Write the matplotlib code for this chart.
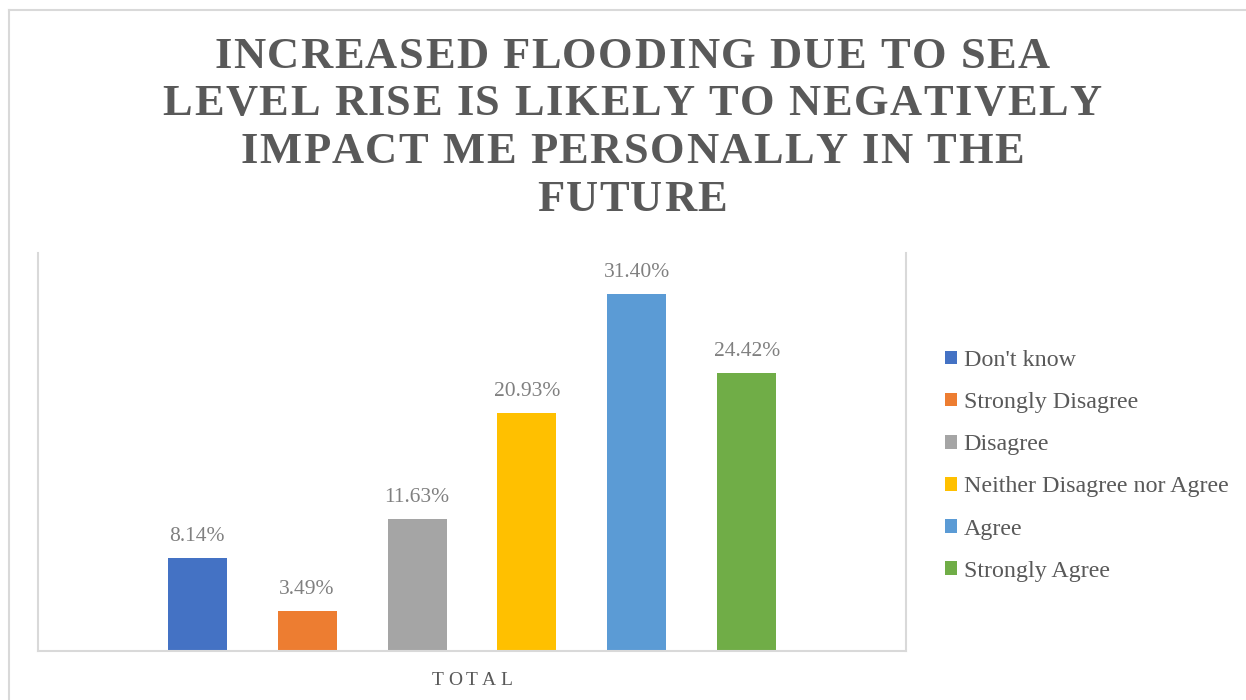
import matplotlib
matplotlib.use("Agg")
import matplotlib.pyplot as plt
from matplotlib.lines import Line2D
from matplotlib.patches import Patch
from matplotlib.font_manager import FontProperties, findfont, get_font

# ==========================================
# DATA
# ==========================================
categories = ["Don't know", "Strongly Disagree", "Disagree",
              "Neither Disagree nor Agree", "Agree", "Strongly Agree"]
values = [8.14, 3.49, 11.63, 20.93, 31.40, 24.42]
colors = ["#4472C4", "#ED7D31", "#A5A5A5", "#FFC000", "#5B9BD5", "#70AD47"]
title_lines = ["INCREASED FLOODING DUE TO SEA",
               "LEVEL RISE IS LIKELY TO NEGATIVELY",
               "IMPACT ME PERSONALLY IN THE",
               "FUTURE"]
group_label = "TOTAL"

W, H, DPI = 1246, 700, 100
SERIF = "Liberation Serif"
DARK = "#595959"
LABEL_GRAY = "#808080"
EDGE = "#D9D9D9"

fig = plt.figure(figsize=(W / DPI, H / DPI), dpi=DPI)
fig.patch.set_facecolor("white")


def spaced_text(line, cx, y_px, size, spacing_px, weight="normal", color=DARK):
    """Draw text centred at cx (pixels) with extra letter spacing."""
    prop = FontProperties(family=SERIF, weight=weight)
    font = get_font(findfont(prop))
    font.set_size(size, DPI)
    advs = [font.load_char(ord(c)).linearHoriAdvance / 65536 for c in line]
    total = sum(advs) + spacing_px * (len(line) - 1)
    x = cx - total / 2
    for c, a in zip(line, advs):
        if c != " ":
            fig.text(x / W, 1 - y_px / H, c, fontproperties=prop, fontsize=size,
                     color=color, ha="left", va="baseline")
        x += a + spacing_px


# outer chart border (top and left edges visible)
fig.add_artist(Line2D([9 / W, 1], [1 - 10 / H, 1 - 10 / H], color=EDGE, lw=1.5))
fig.add_artist(Line2D([9 / W, 9 / W], [0, 1 - 10 / H], color=EDGE, lw=1.5))

# title
for line, base in zip(title_lines, [68, 115, 163, 211]):
    spaced_text(line, 632, base, 32, 1.5, weight="bold")

# plot area
ax = fig.add_axes([38 / W, 1 - 651 / H, 868 / W, 398 / H])
n = len(values)
step = 0.1267
width = 0.068
xs = [(i - (n - 1) / 2) * step for i in range(n)]
bars = ax.bar(xs, values, width=width, color=colors, zorder=2)
for x, v in zip(xs, values):
    ax.annotate(f"{v:.2f}%", (x, v), xytext=(0, 17), textcoords="offset pixels",
                ha="center", va="baseline", fontsize=15.5, family=SERIF,
                color=LABEL_GRAY)

ax.set_xlim(-0.5, 0.5)
ax.set_ylim(0, 35)
ax.set_xticks([])
ax.set_yticks([])
for side in ["left", "right", "bottom"]:
    ax.spines[side].set_color(EDGE)
    ax.spines[side].set_linewidth(1.5)
ax.spines["top"].set_visible(False)

spaced_text(group_label, 472, 685, 14, 4.0)

# legend
handles = [Patch(facecolor=c, edgecolor="none") for c in colors]
leg = fig.legend(handles, categories, loc="upper left",
                 bbox_to_anchor=(945 / W, 1 - 350 / H), frameon=False,
                 prop=FontProperties(family=SERIF, size=17.3),
                 handlelength=0.5, handleheight=0.5, handletextpad=0.28,
                 labelspacing=0.88, borderpad=0, borderaxespad=0)
for t in leg.get_texts():
    t.set_color(DARK)

fig.savefig("out.png", dpi=DPI, facecolor="white")
